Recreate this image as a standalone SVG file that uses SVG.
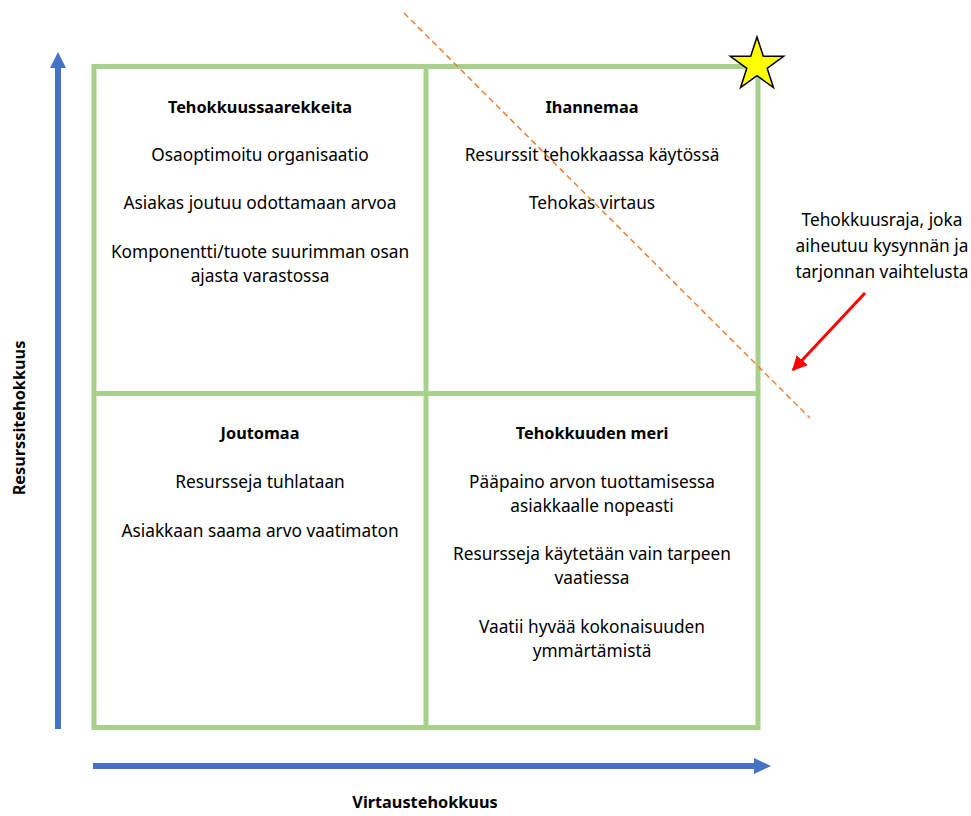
<svg xmlns="http://www.w3.org/2000/svg" width="971" height="816" viewBox="0 0 971 816">
  <style>
    text { font-family: "Noto Sans", "Open Sans", "Liberation Sans", sans-serif; font-size: 17.3px; fill: #000; text-anchor: middle; }
    .b { font-weight: bold; font-size: 16.3px; }
    .grid { stroke: #A9D18E; stroke-width: 5; fill: none; }
    .axis { stroke: #4472C4; stroke-width: 6; fill: none; }
  </style>
  <defs>
    <marker id="redHead" viewBox="0 0 10 10" refX="9" refY="5" markerWidth="5" markerHeight="5" markerUnits="strokeWidth" orient="auto">
      <path d="M0,0 L10,5 L0,10 Z" fill="#FF0000"/>
    </marker>
  </defs>
  <rect width="971" height="816" fill="#fff"/>

  <g id="grid">
    <rect class="grid" x="94" y="66.5" width="664" height="661"/>
    <line class="grid" x1="426" y1="66.5" x2="426" y2="727.5"/>
    <line class="grid" x1="94" y1="393.5" x2="758" y2="393.5"/>
  </g>

  <g id="q-tl">
    <text class="b" x="260" y="113">Tehokkuussaarekkeita</text>
    <text x="260" y="161">Osaoptimoitu organisaatio</text>
    <text x="260" y="209">Asiakas joutuu odottamaan arvoa</text>
    <text x="260" y="258">Komponentti/tuote suurimman osan</text>
    <text x="260" y="282">ajasta varastossa</text>
  </g>
  <g id="q-tr">
    <text class="b" x="592" y="113">Ihannemaa</text>
    <text x="592" y="161">Resurssit tehokkaassa käytössä</text>
    <text x="592" y="209">Tehokas virtaus</text>
  </g>
  <g id="q-bl">
    <text class="b" x="260" y="439">Joutomaa</text>
    <text x="260" y="488">Resursseja tuhlataan</text>
    <text x="260" y="537">Asiakkaan saama arvo vaatimaton</text>
  </g>
  <g id="q-br">
    <text class="b" x="592" y="439">Tehokkuuden meri</text>
    <text x="592" y="488">Pääpaino arvon tuottamisessa</text>
    <text x="592" y="512">asiakkaalle nopeasti</text>
    <text x="592" y="560">Resursseja käytetään vain tarpeen</text>
    <text x="592" y="584">vaatiessa</text>
    <text x="592" y="633">Vaatii hyvää kokonaisuuden</text>
    <text x="592" y="657">ymmärtämistä</text>
  </g>

  <g id="connectors">
    <line x1="404" y1="13" x2="810" y2="418" stroke="#ED7D31" stroke-width="1.5" stroke-dasharray="6 4"/>
    <line class="axis" x1="58" y1="729" x2="58" y2="66"/>
    <path d="M50,68 L58,52 L66,68 Z" fill="#4472C4"/>
    <line class="axis" x1="93" y1="766" x2="756" y2="766"/>
    <path d="M754,758 L771,766 L754,774 Z" fill="#4472C4"/>
    <line x1="865" y1="293" x2="793" y2="370" stroke="#FF0000" stroke-width="3" marker-end="url(#redHead)"/>
  </g>

  <g id="star">
    <polygon points="757,37 763.29,56.34 783.63,56.35 767.18,68.31 773.46,87.65 757,75.7 740.54,87.65 746.82,68.31 730.37,56.35 750.71,56.34" fill="#FFFF00" stroke="#000" stroke-width="1.5" stroke-linejoin="miter"/>
  </g>

  <g id="annotation">
    <text x="882" y="226">Tehokkuusraja, joka</text>
    <text x="882" y="252">aiheutuu kysynnän ja</text>
    <text x="882" y="278">tarjonnan vaihtelusta</text>
  </g>

  <g id="axis-labels">
    <text class="b" x="425" y="808">Virtaustehokkuus</text>
    <text class="b" x="0" y="0" transform="translate(25,418) rotate(-90)">Resurssitehokkuus</text>
  </g>
</svg>
